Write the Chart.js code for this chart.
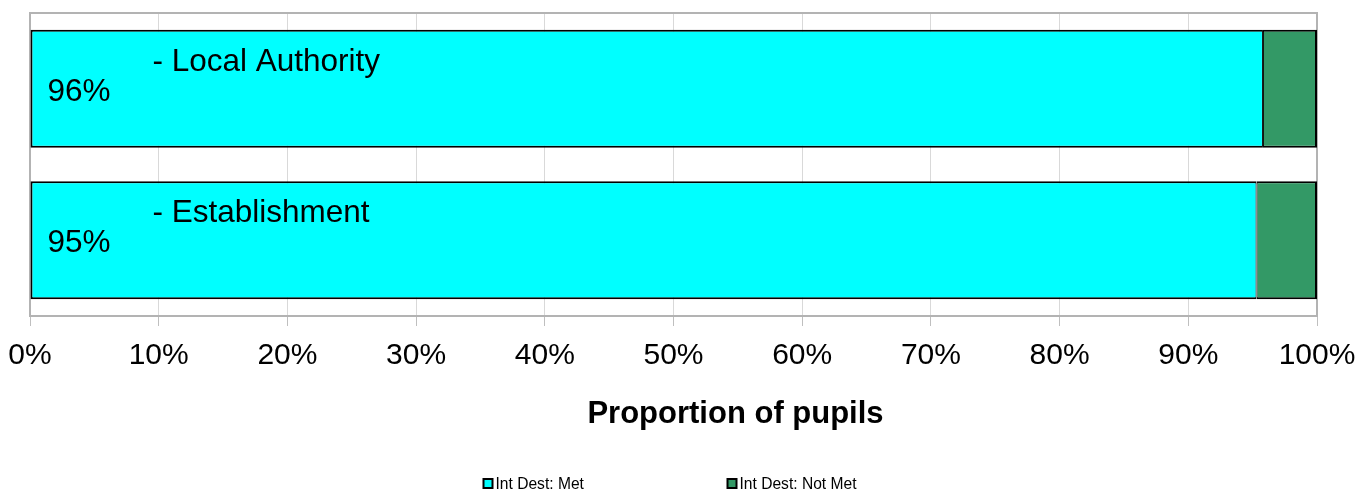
<!DOCTYPE html>
<html>
<head>
<meta charset="utf-8">
<script src="https://cdn.jsdelivr.net/npm/chart.js@4"></script>
<style>
html, body { margin: 0; padding: 0; background: #fff; }
#wrap { width: 1367px; height: 490px; }
</style>
</head>
<body>
<div id="wrap"><canvas id="myChart"></canvas></div>
<script>
var categories = ['- Local Authority', '- Establishment'];
var seriesNames = ['Int Dest: Met', 'Int Dest: Not Met'];
var metValues = [95.8, 95.3];
var notMetValues = [4.2, 4.7];
var tickValues = [0, 10, 20, 30, 40, 50, 60, 70, 80, 90, 100];
var tickLabels = ['0%', '10%', '20%', '30%', '40%', '50%', '60%', '70%', '80%', '90%', '100%'];
var axisTitle = 'Proportion of pupils';

var FONT = "'Liberation Sans', Arial, Helvetica, sans-serif";

// border round the plot, labels inside the bars, axis title and legend
var extras = {
    id: 'extras',
    beforeDatasetsDraw: function(chart) {
        var a = chart.chartArea, ctx = chart.ctx;
        ctx.save();
        ctx.strokeStyle = '#b3b3b3';
        ctx.lineWidth = 2;
        ctx.strokeRect(a.left, a.top, a.right - a.left, a.bottom - a.top);
        ctx.restore();
    },
    afterDatasetsDraw: function(chart) {
        var ctx = chart.ctx;
        var meta = chart.getDatasetMeta(0);
        ctx.save();
        ctx.fillStyle = '#000';
        ctx.font = '31.5px ' + FONT;
        ctx.textAlign = 'left';
        ctx.textBaseline = 'alphabetic';
        meta.data.forEach(function(bar, i) {
            var p = bar.getProps(['y', 'base', 'height'], true);
            var top = p.y - p.height / 2;
            ctx.fillText(categories[i], p.base + 122, top + 41);
            ctx.fillText(Math.round(metValues[i]) + '%', p.base + 17, top + 71);
        });
        ctx.restore();
    },
    afterDraw: function(chart) {
        var a = chart.chartArea, ctx = chart.ctx;
        var cx = (a.left + a.right) / 2;
        ctx.save();
        ctx.fillStyle = '#000';
        ctx.textBaseline = 'alphabetic';
        ctx.textAlign = 'center';
        ctx.font = 'bold 31px ' + FONT;
        ctx.fillText(axisTitle, cx + 62, a.bottom + 107);

        // legend
        ctx.font = '15.6px ' + FONT;
        ctx.textAlign = 'left';
        var colW = 244;
        var x0 = cx - 190;
        var base = a.bottom + 173;
        chart.data.datasets.forEach(function(ds, i) {
            var x = x0 + i * colW;
            ctx.fillStyle = ds.backgroundColor;
            ctx.fillRect(x, base - 10, 9, 9);
            ctx.strokeStyle = '#000';
            ctx.lineWidth = 2;
            ctx.strokeRect(x, base - 10, 9, 9);
            ctx.fillStyle = '#000';
            ctx.fillText(ds.label, x + 12, base);
        });
        ctx.restore();
    }
};

var ctx = document.getElementById('myChart').getContext('2d');
var myChart = new Chart(ctx, {
    type: 'bar',
    data: {
        labels: categories,
        datasets: [{
            label: seriesNames[0],
            data: metValues,
            backgroundColor: '#00ffff',
            borderColor: '#000000',
            borderWidth: { top: 2, bottom: 2, left: 2, right: 1 },
            borderSkipped: false,
            categoryPercentage: 1,
            barPercentage: 0.78
        }, {
            label: seriesNames[1],
            data: notMetValues,
            backgroundColor: '#339966',
            borderColor: '#000000',
            borderWidth: { top: 2, bottom: 2, left: 1, right: 2 },
            borderSkipped: false,
            categoryPercentage: 1,
            barPercentage: 0.78
        }]
    },
    options: {
        indexAxis: 'y',
        responsive: true,
        maintainAspectRatio: false,
        animation: false,
        layout: {
            padding: { left: 30, right: 50, top: 13, bottom: 122 }
        },
        plugins: {
            legend: { display: false },
            tooltip: { enabled: false }
        },
        scales: {
            x: {
                stacked: true,
                min: 0,
                max: 100,
                afterBuildTicks: function(axis) {
                    axis.ticks = tickValues.map(function(v) { return { value: v }; });
                },
                afterFit: function(scale) {
                    scale.height = 52;
                    scale.paddingLeft = 0;
                    scale.paddingRight = 0;
                },
                grid: {
                    color: '#d9d9d9',
                    lineWidth: 1,
                    tickLength: 10,
                    tickColor: '#bfbfbf'
                },
                border: { display: false },
                ticks: {
                    color: '#000',
                    padding: 12,
                    maxRotation: 0,
                    autoSkip: false,
                    font: { family: FONT, size: 30 },
                    callback: function(v, i) { return tickLabels[i]; }
                }
            },
            y: {
                stacked: true,
                display: false
            }
        }
    },
    plugins: [extras]
});
</script>
</body>
</html>
